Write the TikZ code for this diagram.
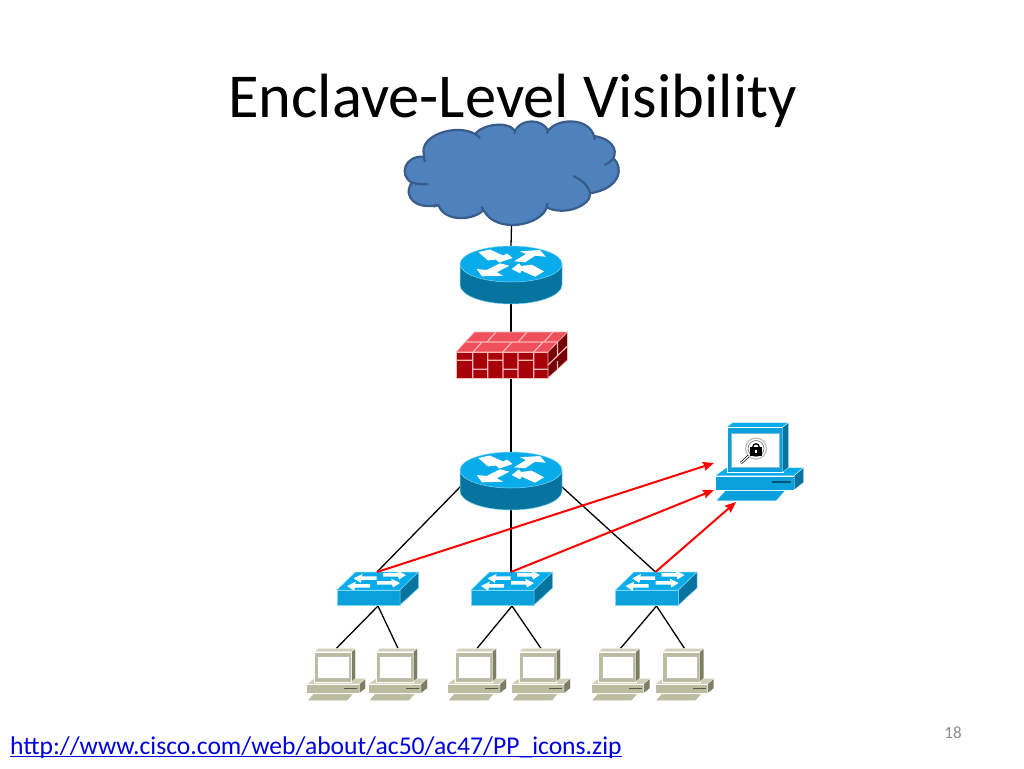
\documentclass[tikz,border=0pt]{standalone}
\usepackage{fontspec}
\setmainfont{Carlito}
\usetikzlibrary{arrows.meta,backgrounds}
\definecolor{cloudfill}{HTML}{4F81BD}
\definecolor{cloudline}{HTML}{385D8A}
\definecolor{bluetop}{HTML}{08ACEA}
\definecolor{bluefront}{HTML}{0AA0DC}
\definecolor{blueside}{HTML}{06749F}
\definecolor{blueedge}{HTML}{7FD8F8}
\definecolor{beigetop}{HTML}{CFCFB8}
\definecolor{beigefront}{HTML}{BBBBA0}
\definecolor{beigeside}{HTML}{7E7E64}
\definecolor{fwfront}{HTML}{A80008}
\definecolor{fwtop}{HTML}{F0505C}
\definecolor{fwside}{HTML}{740006}
\definecolor{fwjoint}{HTML}{F6B8B8}
\definecolor{linkblue}{HTML}{0000E0}
\tikzset{
  pics/routericon/.style={code={
    \coordinate (-n) at (0,-18);
    \coordinate (-s) at (0,40);
    \coordinate (-w) at (-50,16);
    \coordinate (-e) at (50,16);
    \fill[blueside, draw=blueedge, line width=.5pt] (-51,0) -- (-51,21) arc[start angle=180, end angle=0, x radius=51, y radius=19] -- (51,0) -- cycle;
    \fill[bluetop, draw=blueedge, line width=.5pt] (0,0) ellipse[x radius=51, y radius=18];
    \fill[white] (-32.7,-12) -- (-21,-14.5) -- (-8,-8.5) -- (-4,-10.5) -- (1.5,-6) -- (-12,-1.5) -- (-15,-4.5) -- (-23,-3.5) -- cycle;
    \fill[white] (3,-2.7) -- (15,-10) -- (9,-12.7) -- (29,-14) -- (34.7,-7.3) -- (24,-8.3) -- (14,-1.7) -- cycle;
    \fill[white] (-11,-.7) -- (-1.7,1.7) -- (-14.3,8.3) -- (-7.7,11.7) -- (-29,12.3) -- (-34.3,5) -- (-24.3,6) -- cycle;
    \fill[white] (.7,5) -- (8,-.7) -- (10,2) -- (20.7,.7) -- (33,7.3) -- (24,12.7) -- (10.7,6.7) -- (9,9.3) -- cycle;
  }},
  pics/switchicon/.style={code={
    \coordinate (-n) at (40,-18);
    \coordinate (-s) at (41,16);
    \fill[bluetop, draw=blueedge, line width=.5pt] (0,0) -- (18.5,-18) -- (81.5,-18) -- (63,0) -- cycle;
    \fill[bluefront, draw=blueedge, line width=.5pt] (0,0) rectangle (63,15);
    \fill[blueside, draw=blueedge, line width=.5pt] (63,0) -- (81.5,-18) -- (81.5,-2) -- (63,15) -- cycle;
    \foreach \ax/\ay/\ad in {16.7/-11.7/1, 69/-15/-1, 10/-4/1, 63/-7/-1}
      \fill[white, shift={(\ax,\ay)}] (0,0) -- (\ad*9,-4.5) -- (\ad*8,-2) -- (\ad*23,-2) -- (\ad*23,1.5) -- (\ad*8,1.5) -- (\ad*7,4.5) -- cycle;
  }},
  pics/pcicon/.style n args={3}{code={
    \coordinate (-n) at (22,-3.3);
    \fill[#1, draw=white, line width=.3pt] (-7.7,32.3) -- (0,26.7) -- (51.3,26.7) -- (45,32.3) -- cycle;
    \fill[#2, draw=white, line width=.3pt] (-7.7,32.3) rectangle (45,41.7);
    \fill[#3, draw=white, line width=.3pt] (45,32.3) -- (51.3,26.7) -- (51.3,36.7) -- (45,41.7) -- cycle;
    \fill[#3!70!black] (30,36) rectangle (43,37);
    \fill[#2, draw=white, line width=.3pt] (-7,49) -- (-1,42.2) -- (39,42.2) -- (33,49) -- cycle;
    \fill[#1, draw=white, line width=.3pt] (0,0) -- (4,-3.3) -- (41.3,-3.3) -- (37.3,0) -- cycle;
    \fill[#2, draw=white, line width=.3pt] (0,0) rectangle (37.3,30);
    \fill[#3, draw=white, line width=.3pt] (37.3,0) -- (41.3,-3.3) -- (41.3,26.7) -- (37.3,30) -- cycle;
    \fill[white, draw=#3!50!white, line width=.4pt] (3.3,4) rectangle (34.7,26.7);
  }},
  pics/firewallicon/.style={code={
    \coordinate (-n) at (55,-20);
    \coordinate (-s) at (55,26);
    \fill[fwtop, draw=fwjoint, line width=.6pt] (0,0) -- (18.5,-20) -- (111.5,-20) -- (92,0) -- cycle;
    \fill[fwfront, draw=fwjoint, line width=.6pt] (0,0) rectangle (92,26);
    \fill[fwside, draw=fwjoint, line width=.6pt] (92,0) -- (111.5,-20) -- (111.5,8) -- (92,26) -- cycle;
    \draw[fwjoint, line width=1.2pt]
      (16.7,0) -- (16.7,26) (31.7,0) -- (31.7,26) (47,0) -- (47,26) (62,0) -- (62,26) (77.7,0) -- (77.7,26)
      (0,8.3) -- (16.7,8.3) (16.7,17.3) -- (31.7,17.3) (31.7,8.3) -- (47,8.3) (47,17.3) -- (62,17.3) (62,8.3) -- (77.7,8.3) (77.7,17.3) -- (92,17.3)
      (9.5,-10) -- (101.5,-10)
      (17,0) -- (26,-10) (47,0) -- (56,-10) (77.7,0) -- (87,-10)
      (31,-10) -- (40,-20) (62,-10) -- (71,-20) (88,-10) -- (97,-20)
      (92,13) -- (111.5,-6) (101.5,-10) -- (101.5,4) (101.5,9) -- (101.5,17);
  }},
}
\begin{document}
\begin{tikzpicture}[x=1pt, y=-1pt,
                    linkline/.style={black, line width=1.3pt},
                    feedline/.style={red, line width=2pt, -{Stealth[length=11pt, width=9pt, inset=1.5pt]}},
                    ]

\useasboundingbox (0,0) rectangle (1024,768);
\node (title) at (512.5,100.5) {\fontsize{62.5}{70}\selectfont Enclave-Level Visibility};

% cloud
\node (cloud) [minimum width=214pt, minimum height=104pt, inner sep=0pt] at (511.5,173) {};
\begin{scope}[shift={(400,110)}, scale=1/3]
\fill[cloudfill, draw=cloudline, line width=2.2pt, line join=round]
  (72,135) .. controls (55,75) and (170,40) .. (225,72)
  .. controls (245,45) and (320,30) .. (345,62)
  .. controls (365,25) and (425,25) .. (445,62)
  .. controls (470,25) and (565,20) .. (582,78)
  .. controls (630,85) and (655,115) .. (640,145)
  .. controls (670,170) and (665,235) .. (570,250)
  .. controls (575,285) and (495,320) .. (440,292)
  .. controls (425,345) and (290,375) .. (250,300)
  .. controls (225,330) and (135,340) .. (115,285)
  .. controls (55,300) and (5,265) .. (35,218)
  .. controls (-5,195) and (15,135) .. (72,140) -- cycle;
\draw[cloudline, line width=2.2pt]
  (72,135) .. controls (70,145) and (72,150) .. (76,155)
  (225,72) .. controls (232,76) and (238,80) .. (240,85)
  (345,62) -- (343,72)
  (445,62) -- (440,70)
  (582,78) -- (584,90)
  (640,145) .. controls (636,152) and (625,160) .. (613,165)
  (570,250) .. controls (565,225) and (545,210) .. (520,198)
  (440,292) -- (442,280)
  (250,300) -- (245,290)
  (115,285) -- (100,290)
  (35,218) .. controls (50,222) and (70,224) .. (85,222);
\end{scope}

% devices
\pic (rtrtop) at (511,264) {routericon};
\pic (fw) at (456,352) {firewallicon};
\pic (rtrcore) at (511,470) {routericon};
\pic (swa) at (337,590) {switchicon};
\pic (swb) at (471,590) {switchicon};
\pic (swc) at (615.5,590) {switchicon};
\pic (pca) at (314.3,651.7) {pcicon={beigetop}{beigefront}{beigeside}};
\pic (pcb) at (376,651.7) {pcicon={beigetop}{beigefront}{beigeside}};
\pic (pcc) at (455,651.7) {pcicon={beigetop}{beigefront}{beigeside}};
\pic (pcd) at (519,651.7) {pcicon={beigetop}{beigefront}{beigeside}};
\pic (pce) at (598.5,651.7) {pcicon={beigetop}{beigefront}{beigeside}};
\pic (pcf) at (662.5,651.7) {pcicon={beigetop}{beigefront}{beigeside}};
\pic[scale=1.5] (mgmt) at (726.7,427.3) {pcicon={bluetop}{bluefront}{blueside}};

% lock and lens on the screen
\draw[white!75!black, line width=1.2pt, fill=white] (756,448.5) circle[radius=10.5];
\draw[black!70, line width=.5pt] (756,448.5) circle[radius=8];
\draw[black, line width=2.6pt] (748.5,456) -- (741,463);
\draw[white, line width=1.2pt] (748.5,456) -- (741,463);
\fill[black] (750,447) rectangle (762,456);
\draw[black, line width=1.3pt] (752.8,447) arc[start angle=180, end angle=360, radius=3.2];
\fill[white] (755.2,450) rectangle (756.8,453);

\coordinate (mgmtina) at (714,463);
\coordinate (mgmtinb) at (714,490);
\coordinate (mgmtinc) at (736,502);

\begin{scope}[on background layer]
\draw[linkline] (cloud.south) -- (rtrtop-n);
\draw[linkline] (rtrtop-s) -- (fw-n);
\draw[linkline] (fw-s) -- (rtrcore-n);
\draw[linkline] (rtrcore-s) -- (swb-n);
\draw[linkline] (rtrcore-w) -- (swa-n);
\draw[linkline] (rtrcore-e) -- (swc-n);
\draw[linkline] (swa-s) -- (pca-n);
\draw[linkline] (swa-s) -- (pcb-n);
\draw[linkline] (swb-s) -- (pcc-n);
\draw[linkline] (swb-s) -- (pcd-n);
\draw[linkline] (swc-s) -- (pce-n);
\draw[linkline] (swc-s) -- (pcf-n);
\end{scope}

\draw[feedline] (swa-n) -- (mgmtina);
\draw[feedline] (swb-n) -- (mgmtinb);
\draw[feedline] (swc-n) -- (mgmtinc);

\node (url) [anchor=base west, inner sep=0pt, text depth=2pt, text=linkblue] at (10,754) {\fontsize{25.6}{30}\selectfont http://www.cisco.com/web/about/ac50/ac47/PP\_icons.zip};
\draw[linkblue, line width=1pt] (url.south west) -- (url.south east);
\node (pageno) [text=black!45] at (953,733) {\fontsize{17}{20}\selectfont 18};
\end{tikzpicture}
\end{document}
